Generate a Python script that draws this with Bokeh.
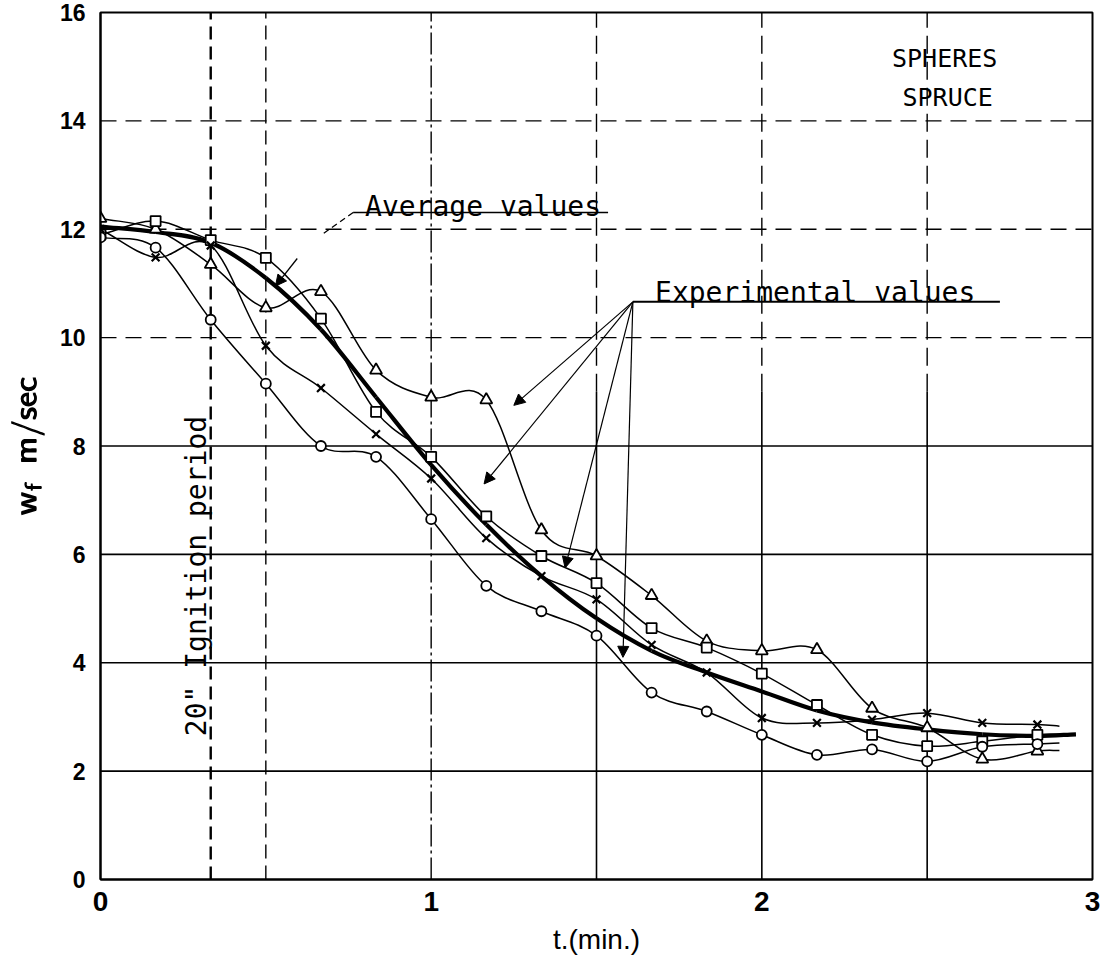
import numpy as np
from bokeh.plotting import figure
from bokeh.models import Range1d, Label, Arrow, NormalHead, FixedTicker, TeX
from bokeh.embed import file_html
from bokeh.resources import INLINE

# ---------------- data ----------------
t_min = [0, 1/6, 2/6, 3/6, 4/6, 5/6, 1, 7/6, 8/6, 9/6, 10/6, 11/6, 2, 13/6, 14/6, 15/6, 16/6, 17/6]
t_end = 2.9

triangles = [12.2, 12.0, 11.35, 10.55, 10.85, 9.4, 8.9, 8.85, 6.45, 5.97, 5.24, 4.4, 4.22, 4.24, 3.16, 2.8, 2.22, 2.37]
triangles_end = 2.38
squares = [11.9, 12.15, 11.8, 11.47, 10.35, 8.63, 7.8, 6.7, 5.97, 5.47, 4.64, 4.28, 3.8, 3.22, 2.67, 2.46, 2.55, 2.67]
squares_end = 2.68
crosses = [12.0, 11.48, 11.7, 9.85, 9.07, 8.22, 7.4, 6.3, 5.6, 5.17, 4.33, 3.82, 2.98, 2.89, 2.95, 3.07, 2.89, 2.86]
crosses_end = 2.83
circles = [11.85, 11.66, 10.33, 9.15, 8.0, 7.8, 6.65, 5.42, 4.95, 4.5, 3.45, 3.1, 2.67, 2.3, 2.4, 2.18, 2.45, 2.5]
circles_end = 2.52

avg_t = [0, 1/6, 2/6, 3/6, 4/6, 5/6, 1, 7/6, 8/6, 9/6, 10/6, 11/6, 2, 13/6, 14/6, 15/6, 16/6, 17/6, 2.95]
avg_v = [12.05, 11.95, 11.75, 11.1, 10.15, 8.9, 7.65, 6.55, 5.6, 4.82, 4.22, 3.82, 3.47, 3.12, 2.9, 2.77, 2.68, 2.65, 2.68]

x_ticks = [0, 1, 2, 3]
y_ticks = [0, 2, 4, 6, 8, 10, 12, 14, 16]
ignition_t = 20 / 60  # 20 seconds

# ---------------- helpers ----------------
def bezier_parts(xs, ys):
    x = np.asarray(xs, float)
    y = np.asarray(ys, float)
    n = len(x)
    xp = np.concatenate([[2 * x[0] - x[1]], x, [2 * x[-1] - x[-2]]])
    yp = np.concatenate([[2 * y[0] - y[1]], y, [2 * y[-1] - y[-2]]])
    x0, x1 = xp[1:n], xp[2:n + 1]
    y0, y1 = yp[1:n], yp[2:n + 1]
    cx0 = x0 + (xp[2:n + 1] - xp[0:n - 1]) / 6
    cy0 = y0 + (yp[2:n + 1] - yp[0:n - 1]) / 6
    cx1 = x1 - (xp[3:n + 2] - xp[1:n]) / 6
    cy1 = y1 - (yp[3:n + 2] - yp[1:n]) / 6
    return dict(x0=x0, y0=y0, x1=x1, y1=y1, cx0=cx0, cy0=cy0, cx1=cx1, cy1=cy1)

p = figure(width=1104, height=966, output_backend="svg", toolbar_location=None,
           x_range=Range1d(0, 3), y_range=Range1d(0, 16),
           min_border_left=100, min_border_right=12, min_border_top=12, min_border_bottom=87)
p.background_fill_color = "white"
p.border_fill_color = "white"
p.outline_line_color = "black"
p.outline_line_width = 2
p.xgrid.visible = False
p.ygrid.visible = False

for ax, ticks in ((p.xaxis, x_ticks), (p.yaxis, y_ticks)):
    ax.ticker = FixedTicker(ticks=ticks)
    ax.axis_line_color = "black"
    ax.axis_line_width = 2
    ax.major_tick_line_color = None
    ax.minor_tick_line_color = None
    ax.major_label_text_font = "Liberation Sans"
    ax.major_label_text_font_style = "bold"
    ax.major_label_text_color = "black"
p.xaxis.major_label_text_font_size = "28px"
p.xaxis.major_label_standoff = 6
p.yaxis.major_label_text_font_size = "23px"
p.yaxis.major_label_standoff = 9

p.xaxis.axis_label = "t.(min.)"
p.xaxis.axis_label_text_font = "Liberation Sans"
p.xaxis.axis_label_text_font_size = "28px"
p.xaxis.axis_label_text_font_style = "normal"
p.xaxis.axis_label_text_color = "black"
p.xaxis.axis_label_standoff = 10

p.yaxis.axis_label = TeX(text=r"\pmb{\mathsf{w_f\ \ m/sec}}")
p.yaxis.axis_label_text_font_size = "27px"
p.yaxis.axis_label_text_color = "black"
p.yaxis.axis_label_standoff = 12

# ---------------- grid ----------------
for v in y_ticks[1:-1]:
    if v <= 8:
        p.segment(x0=[0], y0=[v], x1=[3], y1=[v], line_color="black", line_width=1.6)
    else:
        p.segment(x0=[0], y0=[v], x1=[3], y1=[v], line_color="black", line_width=1.4, line_dash="16 9")
for t in [0.5, 1.0, 1.5, 2.0, 2.5]:
    if t == 0.5:
        p.segment(x0=[t], y0=[0], x1=[t], y1=[16], line_color="black", line_width=1.4, line_dash="14 7")
    elif t == 1.0:
        p.segment(x0=[t], y0=[0], x1=[t], y1=[16], line_color="black", line_width=1.4, line_dash="22 4 3 4")
    else:
        p.segment(x0=[t], y0=[0], x1=[t], y1=[9], line_color="black", line_width=1.6)
        p.segment(x0=[t], y0=[9], x1=[t], y1=[16], line_color="black", line_width=1.4, line_dash="18 8")

# ignition period line
p.segment(x0=[ignition_t], y0=[0], x1=[ignition_t], y1=[16], line_color="black", line_width=2.4, line_dash="13 7")

# ---------------- curves ----------------
series = [
    (triangles, triangles_end, "triangle", 12),
    (squares, squares_end, "square", 10),
    (crosses, crosses_end, "x", 11),
    (circles, circles_end, "circle", 10),
]
for vals, vend, mk, sz in series:
    b = bezier_parts(t_min + [t_end], vals + [vend])
    p.bezier(source=b, x0="x0", y0="y0", x1="x1", y1="y1", cx0="cx0", cy0="cy0",
             cx1="cx1", cy1="cy1", line_color="black", line_width=1.5)

b = bezier_parts(avg_t, avg_v)
p.bezier(source=b, x0="x0", y0="y0", x1="x1", y1="y1", cx0="cx0", cy0="cy0",
         cx1="cx1", cy1="cy1", line_color="black", line_width=4.2)

for vals, vend, mk, sz in series:
    p.scatter(t_min, vals, marker=mk, size=sz, fill_color="white", line_color="black",
              line_width=1.8 if mk != "x" else 2.2)

# ---------------- annotations ----------------
mono = "DejaVu Sans Mono"
p.add_layout(Label(x=0.80, y=12.42, text="Average values", text_font=mono,
                   text_font_size="28px", text_color="black", text_baseline="alphabetic"))
p.segment(x0=[0.764], y0=[12.31], x1=[1.535], y1=[12.31], line_color="black", line_width=1.6)
p.segment(x0=[0.764], y0=[12.31], x1=[0.674], y1=[11.92], line_color="black", line_width=1.3, line_dash="6 4")
p.add_layout(Arrow(end=NormalHead(size=11, fill_color="black", line_color="black"),
                   x_start=0.595, y_start=11.46, x_end=0.529, y_end=10.95,
                   line_color="black", line_width=1.3))

p.add_layout(Label(x=1.677, y=10.83, text="Experimental values", text_font=mono,
                   text_font_size="28px", text_color="black", text_baseline="alphabetic"))
p.segment(x0=[1.61], y0=[10.66], x1=[2.72], y1=[10.66], line_color="black", line_width=2)
for xe, ye in [(1.25, 8.75), (1.16, 7.3), (1.405, 5.75), (1.58, 4.1)]:
    p.add_layout(Arrow(end=NormalHead(size=11, fill_color="black", line_color="black"),
                       x_start=1.61, y_start=10.66, x_end=xe, y_end=ye,
                       line_color="black", line_width=1.2))

p.add_layout(Label(x=2.553, y=15.15, text="SPHERES", text_font=mono, text_font_size="25px",
                   text_color="black", text_align="center", text_baseline="alphabetic"))
p.add_layout(Label(x=2.562, y=14.43, text="SPRUCE", text_font=mono, text_font_size="25px",
                   text_color="black", text_align="center", text_baseline="alphabetic"))

p.add_layout(Label(x=0.29, y=5.6, text='20" Ignition period', text_font=mono,
                   text_font_size="28px", text_color="black", angle=np.pi / 2,
                   text_align="center", text_baseline="alphabetic"))

open("out.html", "w").write(file_html(p, INLINE))
